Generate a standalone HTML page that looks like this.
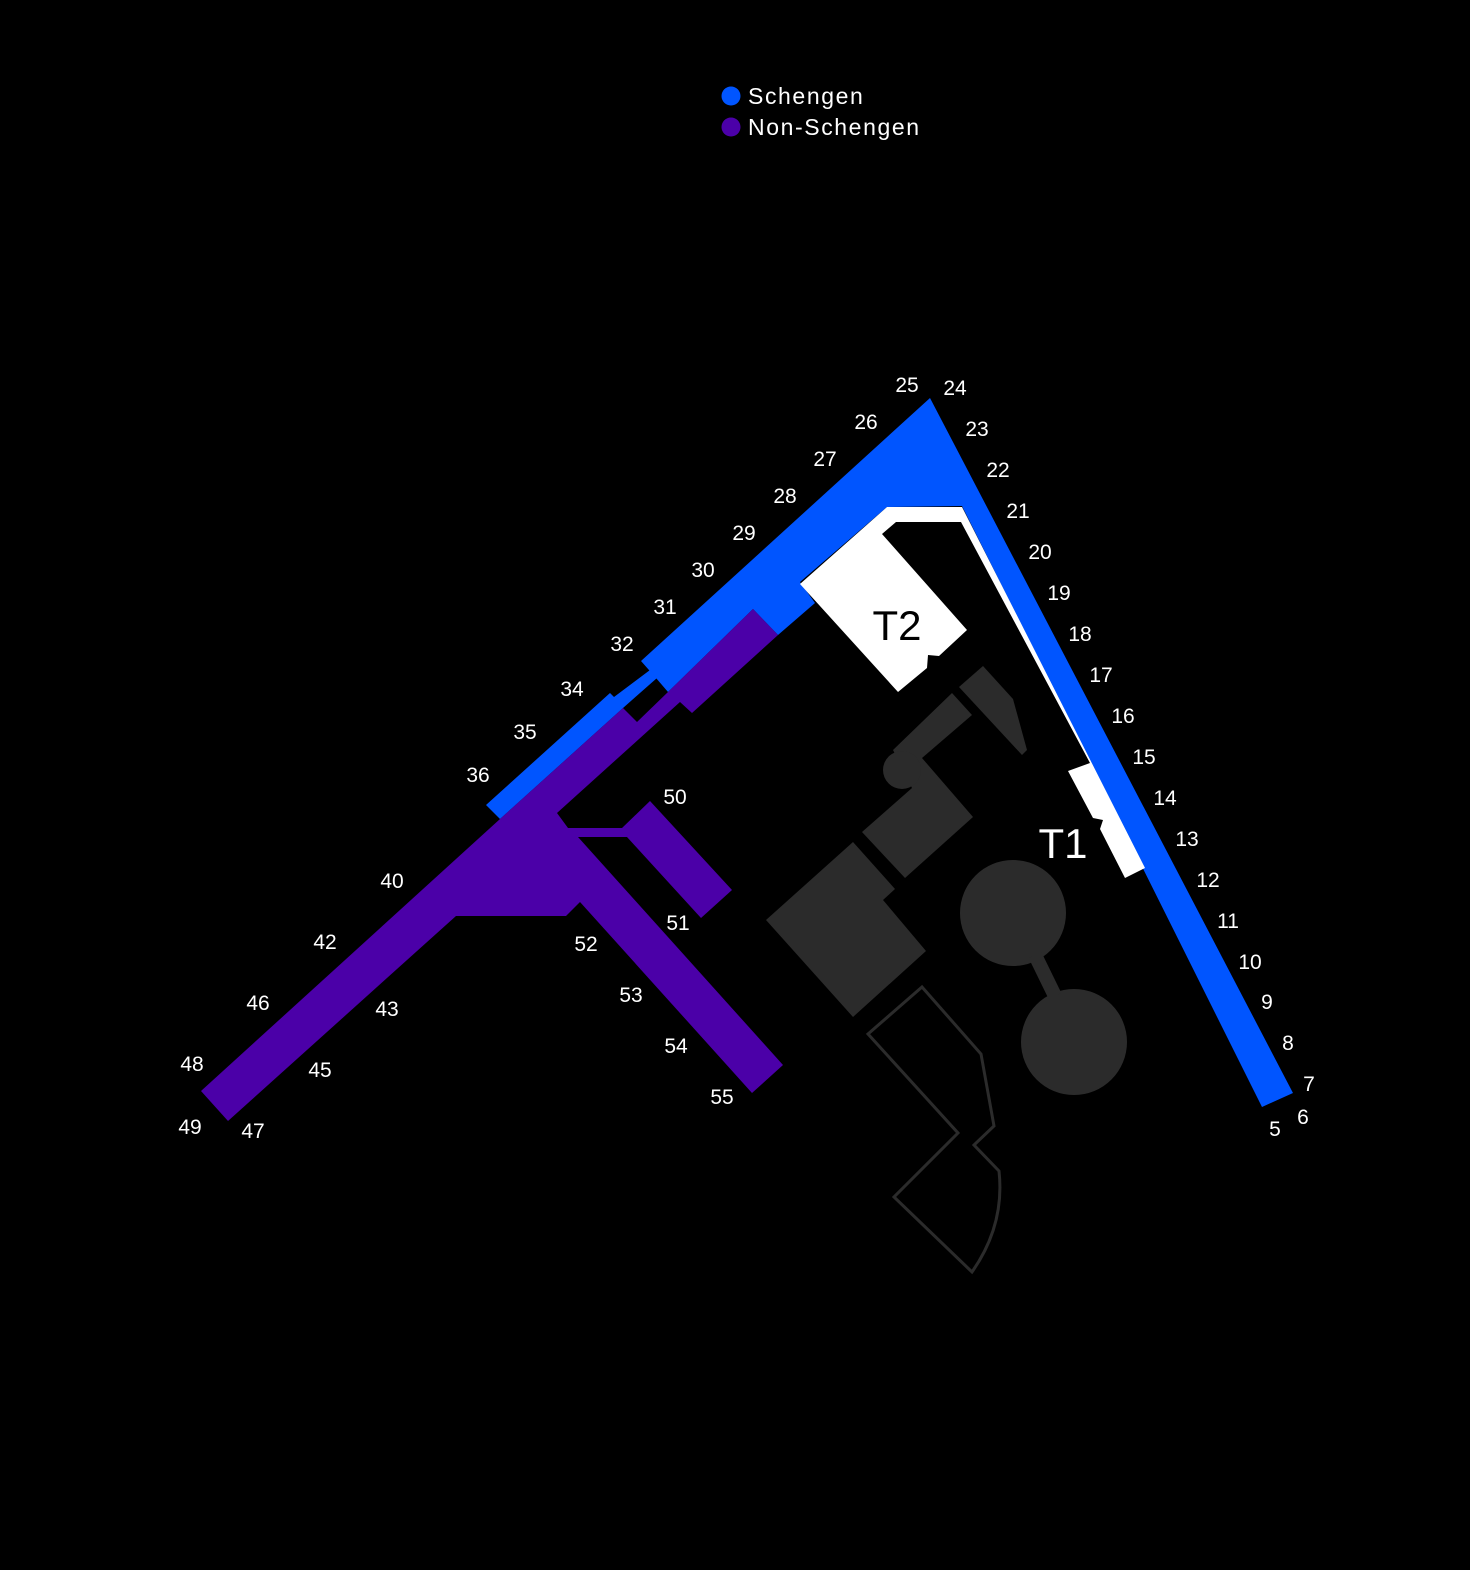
<!DOCTYPE html>
<html><head><meta charset="utf-8"><style>
html,body{margin:0;padding:0;background:#000;}
svg{display:block;}
text{font-family:"Liberation Sans",sans-serif;}
</style></head><body>
<svg width="1470" height="1570" viewBox="0 0 1470 1570" xmlns="http://www.w3.org/2000/svg">
<rect width="1470" height="1570" fill="#000"/>
<!-- legend -->
<circle cx="731" cy="96" r="9.5" fill="#0055ff"/>
<circle cx="731" cy="127" r="9.5" fill="#4b00a8"/>
<text x="748" y="104" font-size="23" letter-spacing="1.6" fill="#fff">Schengen</text>
<text x="748" y="135" font-size="23" letter-spacing="1.6" fill="#fff">Non-Schengen</text>

<!-- gray buildings -->
<g fill="#2b2b2b">
<polygon points="959,687 983,666 1013,699 1027,750 1022,755"/>
<polygon points="952,693 972,715 922,758 973,817 905,878 862,832 912,788 893,750"/>
<circle cx="902" cy="770" r="19"/>
<polygon points="766,920 853,842 895,889 883,900 926,951 853,1017"/>
<circle cx="1013" cy="913" r="53"/>
<circle cx="1074" cy="1042" r="53"/>
</g>
<line x1="1035" y1="955" x2="1055" y2="996" stroke="#2b2b2b" stroke-width="14"/>
<path d="M868,1034 L922,987 L981,1054 L994,1126 L974,1145 L999,1171 Q1005,1225 972,1272 L894,1197 L958,1133 Z" fill="none" stroke="#2b2b2b" stroke-width="3"/>

<!-- blue -->
<g fill="#0055ff">
<polygon points="930,398 1293,1093 1262,1107 962,506 887,507 800,582 815,603 778,635 753,609 668,692 656,678 641,661"/>
<polygon points="650,670 657,678 623,708 500,819 486,805 610,693 614,697"/>
</g>
<!-- purple -->
<polygon fill="#4b00a8" points="753,609 778,635 692,713 680,702 557,813 568,828 622,828 650,801 732,890 701,918 627,837 578,837 783,1065 752,1093 580,902 566,916 456,916 228,1121 201,1091 500,819 623,708 637,722 668,692"/>
<!-- white -->
<polygon fill="#fff" points="800,584 887,507 962,507 1145,868 1125,878 1100,829 1103,820 1093,818 1068,771 1090,763 961,522 896,522 882,534 967,630 939,656 928,655 927,668 898,692"/>

<text x="897" y="640" font-size="42" fill="#000" text-anchor="middle">T2</text>
<text x="1063" y="858" font-size="42" fill="#fff" text-anchor="middle">T1</text>

<g font-size="21" fill="#fff" text-anchor="middle">
<text x="907" y="392">25</text><text x="955" y="395">24</text>
<text x="866" y="429">26</text><text x="977" y="436">23</text>
<text x="825" y="466">27</text><text x="998" y="477">22</text>
<text x="785" y="503">28</text><text x="1018" y="518">21</text>
<text x="744" y="540">29</text><text x="1040" y="559">20</text>
<text x="703" y="577">30</text><text x="1059" y="600">19</text>
<text x="665" y="614">31</text><text x="1080" y="641">18</text>
<text x="622" y="651">32</text><text x="1101" y="682">17</text>
<text x="572" y="696">34</text><text x="1123" y="723">16</text>
<text x="525" y="739">35</text><text x="1144" y="764">15</text>
<text x="478" y="782">36</text><text x="1165" y="805">14</text>
<text x="675" y="804">50</text><text x="1187" y="846">13</text>
<text x="1208" y="887">12</text>
<text x="392" y="888">40</text><text x="1228" y="928">11</text>
<text x="678" y="930">51</text><text x="586" y="951">52</text>
<text x="325" y="949">42</text><text x="1250" y="969">10</text>
<text x="631" y="1002">53</text><text x="258" y="1010">46</text>
<text x="387" y="1016">43</text><text x="1267" y="1009">9</text>
<text x="1288" y="1050">8</text><text x="676" y="1053">54</text>
<text x="192" y="1071">48</text><text x="320" y="1077">45</text>
<text x="1309" y="1091">7</text><text x="722" y="1104">55</text>
<text x="1303" y="1124">6</text><text x="1275" y="1136">5</text>
<text x="190" y="1134">49</text><text x="253" y="1138">47</text>
</g>
</svg>
</body></html>
